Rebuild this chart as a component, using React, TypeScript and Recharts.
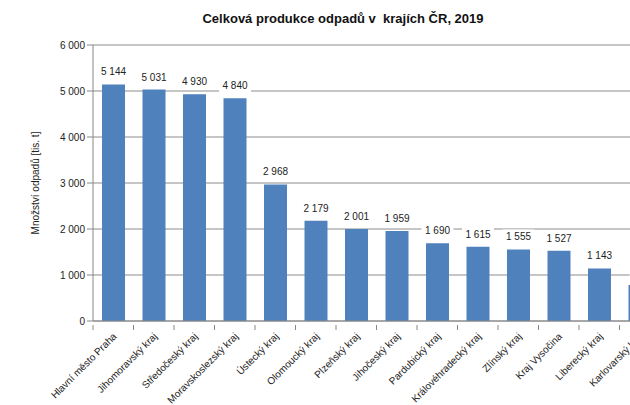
import { BarChart, Bar, XAxis, YAxis, CartesianGrid, LabelList } from 'recharts';

const regions = [
    'Hlavní město Praha',
    'Jihomoravský kraj',
    'Středočeský kraj',
    'Moravskoslezský kraj',
    'Ústecký kraj',
    'Olomoucký kraj',
    'Plzeňský kraj',
    'Jihočeský kraj',
    'Pardubický kraj',
    'Královéhradecký kraj',
    'Zlínský kraj',
    'Kraj Vysočina',
    'Liberecký kraj',
    'Karlovarský kraj',
];
const waste = [5144, 5031, 4930, 4840, 2968, 2179, 2001, 1959, 1690, 1615, 1555, 1527, 1143, 780];
const yTicks = [0, 1000, 2000, 3000, 4000, 5000, 6000];

const data = regions.map((name, i) => ({ name, value: waste[i] }));

const FONT = '"Liberation Sans", Arial, sans-serif';
const fmt = (v: number) => String(v).replace(/\B(?=(\d{3})+(?!\d))/g, ' ');

// category ticks sit on the boundaries between bars, like in Excel
const HALF_BAND = 20.25;

const XTick = (props: any) => {
    const { x, y, payload } = props;
    return (
        <g>
            <line x1={x - HALF_BAND} y1={y - 4} x2={x - HALF_BAND} y2={y + 1} stroke="#888" />
            <text
                x={x + 4}
                y={y + 8}
                transform={`rotate(-45 ${x + 4} ${y + 8})`}
                textAnchor="end"
                fontSize={10}
                fontFamily={FONT}
                fill="#222"
            >
                {payload.value}
            </text>
        </g>
    );
};

const ValueLabel = (props: any) => {
    const { x, y, width, value } = props;
    const cx = x + width / 2;
    const txt = fmt(value);
    const w = txt.length * 5.6 + 4;
    return (
        <g>
            <rect x={cx - w / 2} y={y - 20} width={w} height={14} fill="#fff" />
            <text x={cx} y={y - 9} textAnchor="middle" fontSize={10} fontFamily={FONT} fill="#222">
                {txt}
            </text>
        </g>
    );
};

export default function App() {
    return (
        <div style={{ position: 'absolute', left: 0, top: 0, width: 630, height: 405, overflow: 'hidden', background: '#fff' }}>
            <div
                style={{
                    position: 'absolute',
                    left: 343,
                    top: 11,
                    transform: 'translateX(-50%)',
                    whiteSpace: 'pre',
                    fontFamily: FONT,
                    fontWeight: 'bold',
                    fontSize: 13,
                    color: '#111',
                }}
            >
                Celková produkce odpadů v  krajích ČR, 2019
            </div>
            <div
                style={{
                    position: 'absolute',
                    left: 35,
                    top: 183,
                    transform: 'translate(-50%, -50%) rotate(-90deg)',
                    whiteSpace: 'nowrap',
                    fontFamily: FONT,
                    fontSize: 10,
                    color: '#222',
                }}
            >
                Množství odpadů [tis. t]
            </div>
            <div style={{ position: 'absolute', left: 0, top: 0 }}>
                <BarChart width={670} height={405} data={data} margin={{ top: 45, right: 10, left: 0, bottom: 0 }}>
                    <CartesianGrid vertical={false} stroke="#8c8c8c" />
                    <XAxis
                        dataKey="name"
                        interval={0}
                        height={84}
                        stroke="#888"
                        tickLine={false}
                        tick={<XTick />}
                    />
                    <YAxis
                        width={93}
                        domain={[0, 6000]}
                        ticks={yTicks}
                        tickFormatter={fmt}
                        stroke="#888"
                        tick={{ fontSize: 10, fontFamily: FONT, fill: '#222' }}
                    />
                    <Bar dataKey="value" fill="#4F81BD" barSize={23} isAnimationActive={false}>
                        <LabelList dataKey="value" content={<ValueLabel />} />
                    </Bar>
                </BarChart>
            </div>
        </div>
    );
}
